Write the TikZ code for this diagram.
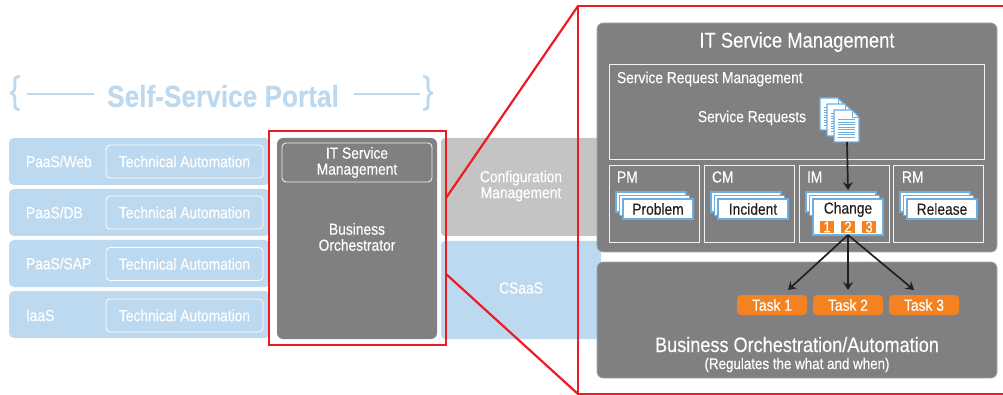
\documentclass[tikz,border=0pt]{standalone}
\usepackage{fontspec}
\setmainfont[FakeStretch=0.8625,FakeBold=0.25]{Liberation Sans}
\usetikzlibrary{positioning,arrows.meta}

\definecolor{svcblue}{HTML}{BDD9EF}
\definecolor{svcgray}{HTML}{C4C4C4}
\definecolor{svcdark}{HTML}{808082}
\definecolor{svcedge}{HTML}{A6A6A8}
\definecolor{svcred}{HTML}{ED1C24}
\definecolor{svcorange}{HTML}{F58220}
\definecolor{svccard}{HTML}{6CAEE0}
\definecolor{svcink}{HTML}{231F20}

\tikzset{
	box/.style={inner sep=0pt, outer sep=0pt},
	band/.style={box, fill=svcblue, rounded corners=5pt, minimum width=261pt, minimum height=47pt},
	tech/.style={box, draw=white, line width=0.8pt, rounded corners=4pt, minimum width=157pt, minimum height=33pt},
	panel/.style={box, fill=svcdark, draw=svcedge, line width=0.6pt, rounded corners=6pt},
	frame/.style={box, draw=white!90!svcdark, line width=0.9pt},
	smallbox/.style={frame, minimum width=90pt, minimum height=77pt},
	card/.style={box, fill=white, draw=svccard, line width=1.2pt, minimum width=70pt, minimum height=20pt},
	num/.style={box, fill=svcorange, text=white, minimum width=14pt, minimum height=12pt, font=\fontsize{15.5}{14}\selectfont},
	taskbox/.style={box, fill=svcorange, text=white, rounded corners=4pt, minimum width=70pt, minimum height=20pt, font=\fontsize{16}{16}\selectfont},
	txt/.style={box, text=white, align=center, font=\fontsize{16}{16}\selectfont},
	cardtxt/.style={box, text=svcink, font=\fontsize{16}{16}\selectfont},
	redline/.style={draw=svcred, line width=2.2pt},
	flow/.style={-{Stealth[length=8pt,width=10pt,inset=3pt]}, draw=svcink, line width=1.7pt}
}

\newcommand{\docsheet}[2]{
	\begin{scope}[shift={(#1,#2)}]
		\draw[fill=white, draw=svccard, line width=1.2pt] (0,0) -- (18,0) -- (25,7) -- (25,32) -- (0,32) -- cycle;
		\draw[draw=svccard, line width=0.8pt] (18,0) -- (18,7) -- (25,7);
		\foreach \ypos in {10,12.5,15,17.5,20,22.5,25,27.5}
			\draw[draw=svccard, line width=1pt] (4,\ypos) -- (21,\ypos);
	\end{scope}
}

\begin{document}
\begin{tikzpicture}[x=1pt, y=-1pt]
	\useasboundingbox (0,0) rectangle (1003,395);

	\node (title) [box, text=svcblue, font=\fontsize{30.4}{32}\bfseries\selectfont] at (223,96) {Self-Service Portal};
	\node (bracel) [box, text=svcblue, font=\fontsize{38}{38}\selectfont] at (15,93) {\{};
	\node (bracer) [box, text=svcblue, font=\fontsize{38}{38}\selectfont] at (428,93) {\}};
	\coordinate (lineaw) at (27,94);
	\coordinate (lineae) at (94,94);
	\coordinate (linebw) at (354,94);
	\coordinate (linebe) at (420,94);
	\draw[draw=svcblue, line width=1.3pt] (lineaw) -- (lineae);
	\draw[draw=svcblue, line width=1.3pt] (linebw) -- (linebe);

	\node (rowa) [band] at (139.5,161.5) {};
	\node (rowb) [band, below=4pt of rowa] {};
	\node (rowc) [band, below=4pt of rowb] {};
	\node (rowd) [band, below=4pt of rowc] {};
	\node (techa) [tech, txt] at (184.5,161.5) {Technical Automation};
	\node (techb) [tech, txt] at (184.5,212.5) {Technical Automation};
	\node (techc) [tech, txt] at (184.5,264) {Technical Automation};
	\node (techd) [tech, txt] at (184.5,315.5) {Technical Automation};
	\node (rowatxt) [txt, anchor=west] at (26,161.5) {PaaS/Web};
	\node (rowbtxt) [txt, anchor=west] at (26,212.5) {PaaS/DB};
	\node (rowctxt) [txt, anchor=west] at (26,263.5) {PaaS/SAP};
	\node (rowdtxt) [txt, anchor=west] at (26,315.5) {IaaS};

	\node (config) [box, fill=svcgray, rounded corners=4pt, minimum width=160pt, minimum height=98pt] at (521,187) {};
	\node (csaas) [box, fill=svcblue, rounded corners=4pt, minimum width=160pt, minimum height=98pt] at (521,290) {};
	\node (configtxt) [txt] at (521,186) {Configuration\\Management};
	\node (csaastxt) [txt] at (521,288) {CSaaS};

	\node (orch) [panel, draw=none, minimum width=160pt, minimum height=201pt] at (357,238.5) {};
	\node (itsm) [box, draw=white!85!svcdark, line width=0.9pt, rounded corners=4pt, minimum width=150pt, minimum height=39pt, txt] at (357,162.5) {IT Service\\Management};
	\node (orchtxt) [txt] at (357,237) {Business\\Orchestrator};
	\node (redbox) [box, draw=svcred, line width=2.2pt, minimum width=177pt, minimum height=214pt] at (357.5,238) {};

	\coordinate (redne) at (1003,6);
	\coordinate (rednw) at (578,6);
	\coordinate (redsw) at (578,394);
	\coordinate (redse) at (1003,394);
	\coordinate (zoomn) at (446,198);
	\coordinate (zooms) at (446,274);
	\draw[redline] (redne) -- (rednw) -- (redsw) -- (redse);
	\draw[redline] (zoomn) -- (rednw);
	\draw[redline] (zooms) -- (redsw);

	\node (itpanel) [panel, minimum width=400pt, minimum height=229pt] at (797,137.5) {};
	\node (bopanel) [panel, minimum width=400pt, minimum height=116pt] at (797,320) {};
	\node (ittxt) [txt, font=\fontsize{21.3}{22}\selectfont] at (797,42) {IT Service Management};

	\node (srm) [frame, minimum width=375pt, minimum height=95pt] at (796.5,112) {};
	\node (srmtxt) [txt, anchor=west] at (617,79) {Service Request Management};
	\node (srtxt) [txt] at (752,118) {Service Requests};
	\docsheet{820}{98}
	\docsheet{827}{104}
	\docsheet{834}{110}
	\coordinate (reqdoc) at (847,142);

	\node (pm) [smallbox] at (654,203.5) {};
	\node (cm) [smallbox, right=5pt of pm] {};
	\node (im) [smallbox, right=5pt of cm] {};
	\node (rm) [smallbox, right=4.5pt of im] {};
	\node (pmtxt) [txt, anchor=west] at (617,177) {PM};
	\node (cmtxt) [txt, anchor=west] at (712,177) {CM};
	\node (imtxt) [txt, anchor=west] at (807,177) {IM};
	\node (rmtxt) [txt, anchor=west] at (902,177) {RM};

	\node (proba) [card] at (651,202) {};
	\node (probb) [card] at (654.5,205.5) {};
	\node (prob) [card, cardtxt] at (658,209) {Problem};
	\node (inca) [card] at (746,202) {};
	\node (incb) [card] at (749.5,205.5) {};
	\node (inc) [card, cardtxt] at (753,209) {Incident};
	\node (chga) [card] at (841,202) {};
	\node (chgb) [card] at (844.5,205.5) {};
	\node (chg) [card, minimum height=36pt] at (848,217) {};
	\node (chgtxt) [cardtxt] at (848,209.5) {Change};
	\node (rela) [card] at (935,202) {};
	\node (relb) [card] at (938.5,205.5) {};
	\node (rel) [card, cardtxt] at (942,209) {Release};
	\node (numa) [num] at (827,227) {1};
	\node (numb) [num] at (848,227) {2};
	\node (numc) [num] at (869,227) {3};

	\node (taska) [taskbox] at (772,305) {Task 1};
	\node (taskb) [taskbox, right=6pt of taska] {Task 2};
	\node (taskc) [taskbox, right=6pt of taskb] {Task 3};
	\node (botxt) [txt, font=\fontsize{21}{22}\selectfont] at (797,344.5) {Business Orchestration/Automation};
	\node (bosub) [txt, font=\fontsize{15.5}{16}\selectfont] at (797,365) {(Regulates the what and when)};

	\coordinate (chgin) at (848,190);
	\coordinate (taskain) at (788,290);
	\coordinate (taskbin) at (848,290);
	\coordinate (taskcin) at (914,290);
	\draw[flow] (reqdoc) -- (chgin);
	\draw[flow] (chg.south) -- (taskain);
	\draw[flow] (chg.south) -- (taskbin);
	\draw[flow] (chg.south) -- (taskcin);
\end{tikzpicture}
\end{document}
